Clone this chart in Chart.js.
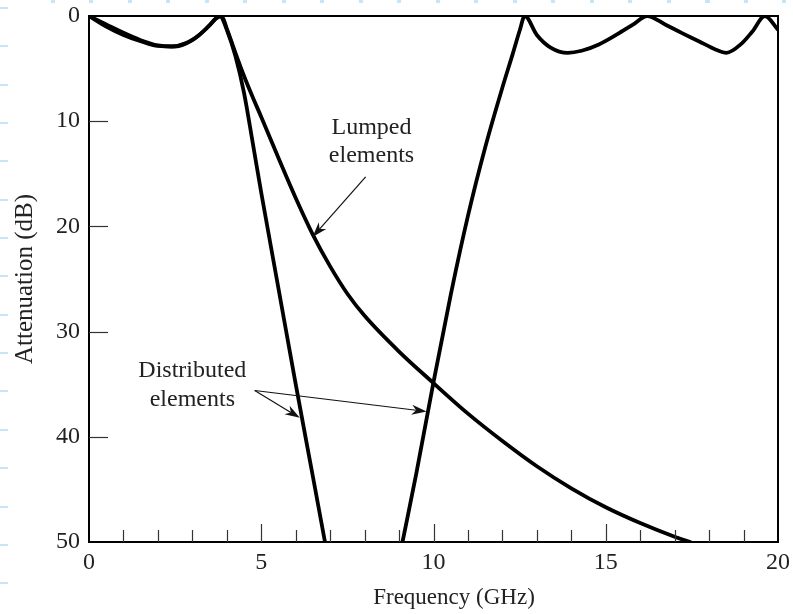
<!DOCTYPE html>
<html>
<head>
<meta charset="utf-8">
<script src="https://cdn.jsdelivr.net/npm/chart.js@4.4.1/dist/chart.umd.min.js"></script>
<style>
  html, body { margin: 0; padding: 0; }
  body {
    width: 793px; height: 614px; overflow: hidden;
    background-color: #fff;
    background-image:
      repeating-linear-gradient(to bottom, #c6e5f8 0 2px, transparent 2px 38.35px),
      repeating-linear-gradient(to right, #c6e5f8 0 4px, transparent 4px 38.5px);
    background-size: 8px 614px, 793px 3px;
    background-position: 0 7px, 51px 0;
    background-repeat: no-repeat;
  }
  #wrap { position: relative; width: 793px; height: 614px; }
  canvas { display: block; }
</style>
</head>
<body>
<div id="wrap"><canvas id="graphique" width="793" height="614"></canvas></div>
<script>
// Valeurs (fréquence en GHz, atténuation en dB)
const lumpedFreq = [0, 0.5, 1, 1.5, 2, 2.5, 3, 3.4, 3.7, 3.85, 4.0, 4.25, 4.5, 4.75, 5, 5.5, 6, 6.5, 7, 7.5, 8, 9, 10, 11, 12, 13, 14, 15, 16, 17, 17.45];
const lumpedAtt  = [0, 1.0, 1.8, 2.4, 2.85, 2.9, 2.3, 1.2, 0.2, 0, 1.2, 3.5, 5.7, 7.7, 9.6, 13.5, 17.3, 20.8, 23.8, 26.4, 28.5, 31.9, 34.9, 37.8, 40.4, 42.8, 44.9, 46.7, 48.2, 49.5, 50];

const distLowFreq = [0, 0.5, 1, 1.5, 2, 2.4, 2.8, 3.2, 3.5, 3.8, 4.0, 4.25, 4.5, 4.75, 5, 5.5, 6, 6.5, 6.85];
const distLowAtt  = [0, 0.8, 1.6, 2.3, 2.8, 2.9, 2.6, 1.8, 0.9, 0, 1.3, 3.8, 7.3, 12.0, 16.8, 25.9, 35.0, 43.8, 50];

const distHighFreq = [9.1, 9.5, 10, 10.5, 11, 11.5, 12, 12.3, 12.5, 12.65, 13, 13.4, 13.9, 14.3, 14.8, 15.3, 15.8, 16.2, 16.75, 17.2, 17.7, 18.2, 18.5, 18.95, 19.25, 19.62, 20];
const distHighAtt  = [50, 43.5, 34.8, 26.5, 19.0, 12.5, 6.8, 3.6, 1.4, 0, 1.8, 3.0, 3.5, 3.3, 2.7, 1.8, 0.8, 0, 0.85, 1.6, 2.4, 3.2, 3.5, 2.6, 1.5, 0, 1.3];

const xTicks = [0, 5, 10, 15, 20];
const yTicks = [0, 10, 20, 30, 40, 50];

// Annotations (en coordonnées des données)
const lumpedLabel = { f: 8.2, db: [10.6, 13.3], lines: ['Lumped', 'elements'] };
const lumpedArrow = { from: [8.03, 15.3], to: [6.49, 21.0] };
const distLabel = { f: 3.0, db: [33.7, 36.5], lines: ['Distributed', 'elements'] };
const distArrows = [
  { from: [4.81, 35.6], to: [6.12, 38.2] },
  { from: [4.81, 35.6], to: [9.8, 37.6] }
];

const serif = '"Liberation Serif", "Times New Roman", serif';

function toPoints(xs, ys) {
  return xs.map((x, i) => ({ x: x, y: ys[i] }));
}

function drawArrow(ctx, x1, y1, x2, y2) {
  const ang = Math.atan2(y2 - y1, x2 - x1);
  const len = 15, half = 5;
  ctx.beginPath();
  ctx.moveTo(x1, y1);
  ctx.lineTo(x2 - Math.cos(ang) * len * 0.7, y2 - Math.sin(ang) * len * 0.7);
  ctx.stroke();
  ctx.beginPath();
  ctx.moveTo(x2, y2);
  ctx.lineTo(x2 - Math.cos(ang) * len + Math.sin(ang) * half, y2 - Math.sin(ang) * len - Math.cos(ang) * half);
  ctx.lineTo(x2 - Math.cos(ang) * len * 0.7, y2 - Math.sin(ang) * len * 0.7);
  ctx.lineTo(x2 - Math.cos(ang) * len - Math.sin(ang) * half, y2 - Math.sin(ang) * len + Math.cos(ang) * half);
  ctx.closePath();
  ctx.fill();
}

// Cadre, graduations intérieures, textes et flèches
const decorPlugin = {
  id: 'decor',
  afterDatasetsDraw(chart) {
    const ctx = chart.ctx;
    const area = chart.chartArea;
    const xs = chart.scales.x, ys = chart.scales.y;
    ctx.save();

    // cadre haut / droite
    ctx.strokeStyle = '#000';
    ctx.lineWidth = 2;
    ctx.beginPath();
    ctx.moveTo(area.left, area.top);
    ctx.lineTo(area.right, area.top);
    ctx.lineTo(area.right, area.bottom);
    ctx.stroke();

    // graduations vers l'intérieur
    ctx.strokeStyle = '#333';
    ctx.lineWidth = 1.2;
    for (let f = 1; f < 20; f++) {
      const px = Math.round(xs.getPixelForValue(f)) + 0.5;
      const len = (f % 5 === 0) ? 18 : 12;
      ctx.beginPath();
      ctx.moveTo(px, area.bottom);
      ctx.lineTo(px, area.bottom - len);
      ctx.stroke();
    }
    for (let d = 10; d < 50; d += 10) {
      const py = Math.round(ys.getPixelForValue(d)) + 0.5;
      ctx.beginPath();
      ctx.moveTo(area.left, py);
      ctx.lineTo(area.left + 19, py);
      ctx.stroke();
    }

    // textes
    ctx.fillStyle = '#222';
    ctx.font = '24px ' + serif;
    ctx.textAlign = 'center';
    ctx.textBaseline = 'middle';
    [lumpedLabel, distLabel].forEach(lab => {
      lab.lines.forEach((t, i) => {
        ctx.fillText(t, xs.getPixelForValue(lab.f), ys.getPixelForValue(lab.db[i]));
      });
    });

    // flèches
    ctx.strokeStyle = '#111';
    ctx.fillStyle = '#111';
    ctx.lineWidth = 1.2;
    [lumpedArrow].concat(distArrows).forEach(a => {
      drawArrow(ctx,
        xs.getPixelForValue(a.from[0]), ys.getPixelForValue(a.from[1]),
        xs.getPixelForValue(a.to[0]), ys.getPixelForValue(a.to[1]));
    });

    // titre de l'axe x
    ctx.fillStyle = '#222';
    ctx.font = '23px ' + serif;
    ctx.fillText('Frequency (GHz)', 454, 598);

    ctx.restore();
  }
};

const lineStyle = {
  borderColor: '#000',
  borderWidth: 3.8,
  pointRadius: 0,
  fill: false,
  cubicInterpolationMode: 'monotone',
  borderCapStyle: 'round',
  borderJoinStyle: 'round'
};

const ctx = document.getElementById('graphique').getContext('2d');
const myChart = new Chart(ctx, {
  type: 'line',
  data: {
    datasets: [
      Object.assign({ label: 'Lumped elements', data: toPoints(lumpedFreq, lumpedAtt) }, lineStyle),
      Object.assign({ label: 'Distributed elements', data: toPoints(distLowFreq, distLowAtt) }, lineStyle),
      Object.assign({ label: 'Distributed elements (2)', data: toPoints(distHighFreq, distHighAtt) }, lineStyle)
    ]
  },
  options: {
    responsive: false,
    animation: false,
    layout: { padding: { left: 0, top: 16, right: 15, bottom: 0 } },
    plugins: { legend: { display: false }, tooltip: { enabled: false } },
    scales: {
      x: {
        type: 'linear',
        min: 0, max: 20,
        afterBuildTicks: s => { s.ticks = xTicks.map(v => ({ value: v })); },
        afterFit: s => { s.height = 72; s.paddingLeft = 0; s.paddingRight = 0; },
        grid: { display: false, drawTicks: false },
        border: { display: true, color: '#000', width: 2 },
        ticks: { color: '#222', font: { family: serif, size: 24 }, padding: 6, maxRotation: 0 }
      },
      y: {
        type: 'linear',
        reverse: true,
        min: 0, max: 50,
        afterBuildTicks: s => { s.ticks = yTicks.map(v => ({ value: v })); },
        afterFit: s => { s.width = 89; s.paddingTop = 0; s.paddingBottom = 0; },
        grid: { display: false, drawTicks: false },
        border: { display: true, color: '#000', width: 2 },
        ticks: { color: '#222', font: { family: serif, size: 24 }, padding: 9 },
        title: { display: true, text: 'Attenuation (dB)', color: '#222', font: { family: serif, size: 25 }, padding: { top: 10, bottom: 0 } }
      }
    }
  },
  plugins: [decorPlugin]
});
</script>
</body>
</html>
